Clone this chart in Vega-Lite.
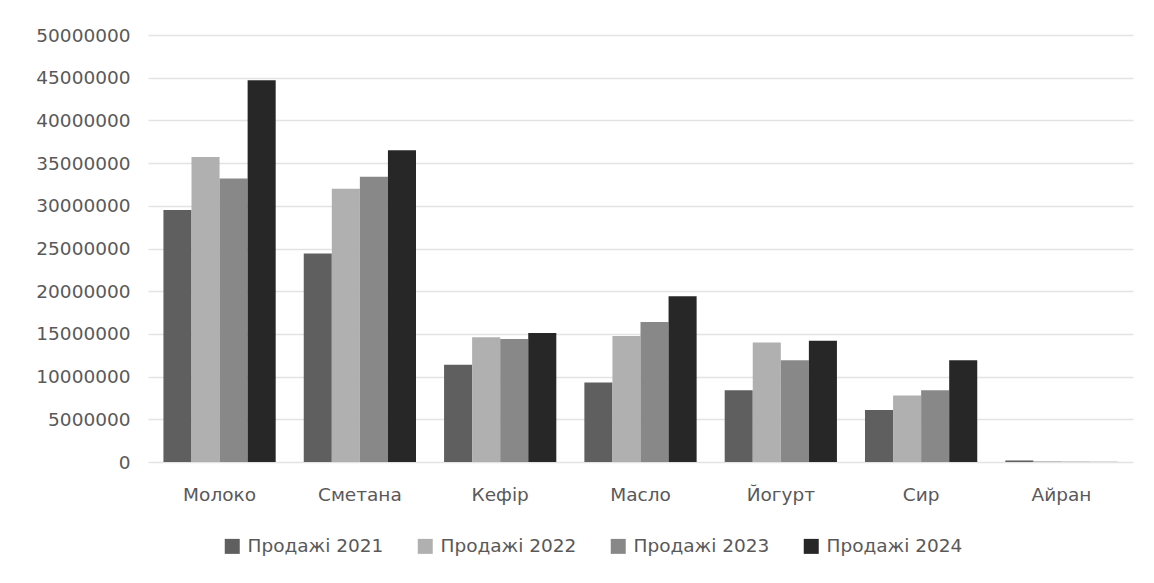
{
  "$schema": "https://vega.github.io/schema/vega-lite/v6.json",
  "width": 985,
  "height": 427,
  "autosize": {"type": "none"},
  "padding": {"left": 148, "top": 35, "right": 21, "bottom": 121},
  "background": "white",
  "data": {
    "values": [
      {"product": "Молоко", "series": "Продажі 2021", "value": 29500000},
      {"product": "Молоко", "series": "Продажі 2022", "value": 35700000},
      {"product": "Молоко", "series": "Продажі 2023", "value": 33200000},
      {"product": "Молоко", "series": "Продажі 2024", "value": 44700000},
      {"product": "Сметана", "series": "Продажі 2021", "value": 24400000},
      {"product": "Сметана", "series": "Продажі 2022", "value": 32000000},
      {"product": "Сметана", "series": "Продажі 2023", "value": 33400000},
      {"product": "Сметана", "series": "Продажі 2024", "value": 36500000},
      {"product": "Кефір", "series": "Продажі 2021", "value": 11400000},
      {"product": "Кефір", "series": "Продажі 2022", "value": 14600000},
      {"product": "Кефір", "series": "Продажі 2023", "value": 14400000},
      {"product": "Кефір", "series": "Продажі 2024", "value": 15100000},
      {"product": "Масло", "series": "Продажі 2021", "value": 9300000},
      {"product": "Масло", "series": "Продажі 2022", "value": 14750000},
      {"product": "Масло", "series": "Продажі 2023", "value": 16400000},
      {"product": "Масло", "series": "Продажі 2024", "value": 19400000},
      {"product": "Йогурт", "series": "Продажі 2021", "value": 8400000},
      {"product": "Йогурт", "series": "Продажі 2022", "value": 14000000},
      {"product": "Йогурт", "series": "Продажі 2023", "value": 11900000},
      {"product": "Йогурт", "series": "Продажі 2024", "value": 14200000},
      {"product": "Сир", "series": "Продажі 2021", "value": 6100000},
      {"product": "Сир", "series": "Продажі 2022", "value": 7800000},
      {"product": "Сир", "series": "Продажі 2023", "value": 8400000},
      {"product": "Сир", "series": "Продажі 2024", "value": 11900000},
      {"product": "Айран", "series": "Продажі 2021", "value": 180000},
      {"product": "Айран", "series": "Продажі 2022", "value": 90000},
      {"product": "Айран", "series": "Продажі 2023", "value": 40000},
      {"product": "Айран", "series": "Продажі 2024", "value": 15000}
    ]
  },
  "mark": {"type": "bar"},
  "encoding": {
    "x": {
      "field": "product",
      "type": "nominal",
      "sort": null,
      "scale": {"paddingInner": 0.2, "paddingOuter": 0.11},
      "axis": {
        "title": null,
        "labelAngle": 0,
        "ticks": false,
        "tickSize": 0,
        "domain": false,
        "labelPadding": 23,
        "labelFontSize": 18.5,
        "labelFont": "DejaVu Sans",
        "labelColor": "#595959"
      }
    },
    "xOffset": {
      "field": "series",
      "type": "nominal",
      "sort": ["Продажі 2021", "Продажі 2022", "Продажі 2023", "Продажі 2024"],
      "scale": {"paddingInner": 0, "paddingOuter": 0}
    },
    "y": {
      "field": "value",
      "type": "quantitative",
      "scale": {"domain": [0, 50000000], "nice": false},
      "axis": {
        "title": null,
        "values": [0, 5000000, 10000000, 15000000, 20000000, 25000000, 30000000, 35000000, 40000000, 45000000, 50000000],
        "format": "d",
        "grid": true,
        "gridColor": "#e3e3e3",
        "gridWidth": 1.5,
        "ticks": false,
        "tickSize": 0,
        "domain": false,
        "labelPadding": 18,
        "labelFontSize": 18.5,
        "labelFont": "DejaVu Sans",
        "labelColor": "#595959"
      }
    },
    "color": {
      "field": "series",
      "type": "nominal",
      "scale": {
        "domain": ["Продажі 2021", "Продажі 2022", "Продажі 2023", "Продажі 2024"],
        "range": ["#5f5f5f", "#b0b0b0", "#888888", "#272727"]
      },
      "legend": {
        "title": null,
        "orient": "none",
        "legendX": 75,
        "legendY": 502,
        "direction": "horizontal",
        "columns": 4,
        "columnPadding": 32,
        "padding": 0,
        "symbolType": "square",
        "symbolSize": 225,
        "symbolStrokeWidth": 0,
        "symbolOpacity": 1,
        "labelOffset": 6,
        "labelFontSize": 18.5,
        "labelFont": "DejaVu Sans",
        "labelColor": "#595959",
        "labelLimit": 300
      }
    }
  },
  "config": {
    "view": {"stroke": null}
  }
}
